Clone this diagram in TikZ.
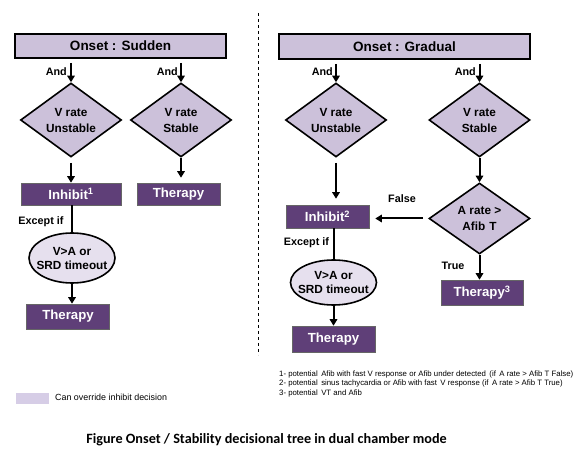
\documentclass[tikz,border=0pt]{standalone}
\usepackage{fontspec}
\setmainfont{Liberation Sans}
\newfontfamily\capfont{Carlito}
\usetikzlibrary{shapes.geometric,arrows.meta}
\definecolor{lilac}{HTML}{CCC1DA}
\definecolor{plum}{HTML}{5F3F78}
\definecolor{pale}{HTML}{E6E0EE}
\definecolor{swatch}{HTML}{D6CDE6}
\begin{document}
\begin{tikzpicture}[x=1pt,y=-1pt,
  onset/.style={draw=black,line width=2pt,fill=lilac,inner sep=0pt,font=\bfseries\fontsize{13.5}{15}\selectfont},
  test/.style={diamond,draw=black,line width=1.6pt,fill=lilac,inner sep=0pt,aspect=1.37,minimum width=101pt,minimum height=74pt,align=center,font=\bfseries\fontsize{11.8}{16}\selectfont},
  act/.style={draw=black!60,line width=0.6pt,fill=plum,text=white,inner sep=0pt,font=\bfseries\fontsize{13.2}{15}\selectfont},
  cond/.style={ellipse,draw=black,line width=1.6pt,fill=pale,inner xsep=-5pt,inner ysep=0pt,minimum width=84pt,minimum height=50pt,align=center,font=\bfseries\fontsize{11.8}{14}\selectfont},
  lbl/.style={inner sep=0pt,font=\bfseries\fontsize{10.8}{12}\selectfont},
  flow/.style={line width=2pt,-{Triangle[length=6.5pt,width=7.5pt]}},
  note/.style={anchor=west,inner sep=0pt,font=\fontsize{7.8}{9}\selectfont}]
\useasboundingbox (0,0) rectangle (582,468);
\fill[white] (0,0) rectangle (582,468);
\draw[line width=1pt,dash pattern=on 3pt off 3pt] (258,13) -- (258,355);
% sudden onset
\node[onset,minimum width=211pt,minimum height=24pt] (onsetS) at (120.5,46) {Onset : Sudden};
\node[test] (vuS) at (71,120) {V rate\\Unstable};
\node[test] (vsS) at (181,120) {V rate\\Stable};
\node[act,minimum width=100pt,minimum height=22pt] (inhS) at (71,194) {Inhibit\textsuperscript{1}};
\node[act,minimum width=83pt,minimum height=22pt] (thS) at (178.5,194) {Therapy};
\node[cond] (exS) at (72,258) {V>A or\\SRD timeout};
\node[act,minimum width=83pt,minimum height=25pt] (th2S) at (68,316.5) {Therapy};
\node[lbl,anchor=east] (andA) at (67,72) {And};
\node[lbl,anchor=east] (andB) at (178,72) {And};
\node[lbl] (excS) at (41,222) {Except if};
\draw[flow,shorten <=4pt] (onsetS.south -| vuS.north) -- (vuS.north);
\draw[flow,shorten <=4pt] (onsetS.south -| vsS.north) -- (vsS.north);
\draw[flow,shorten <=5pt] (vuS.south) -- (vuS.south |- inhS.north);
\draw[flow,shorten >=5pt] (vsS.south) -- (vsS.south |- thS.north);
\draw[line width=2pt] (exS.north |- inhS.south) -- (exS.north);
\draw[flow] (exS.south) -- (exS.south |- th2S.north);
% gradual onset
\node[onset,minimum width=251pt,minimum height=25pt] (onsetG) at (404.5,46.5) {Onset : Gradual};
\node[test] (vuG) at (336,120) {V rate\\Unstable};
\node[test] (vsG) at (479.5,120) {V rate\\Stable};
\node[test,minimum height=71pt] (aR) at (479.5,218.5) {A rate >\\Afib\,\,T};
\node[act,minimum width=83pt,minimum height=23pt] (inhG) at (327.5,216.5) {Inhibit\textsuperscript{2}};
\node[cond,minimum width=83pt,minimum height=45pt] (exG) at (333.5,282.5) {V>A or\\SRD timeout};
\node[act,minimum width=83pt,minimum height=26pt] (thG) at (333.5,339) {Therapy};
\node[act,minimum width=82pt,minimum height=25pt] (th3G) at (482,292.5) {Therapy\textsuperscript{3}};
\node[lbl,anchor=east] (andC) at (333,72) {And};
\node[lbl,anchor=east] (andD) at (476,72) {And};
\node[lbl] (excG) at (306.5,243) {Except if};
\node[lbl] (falseL) at (402,199) {False};
\node[lbl] (trueL) at (453,266) {True};
\draw[flow,shorten <=4pt] (onsetG.south -| vuG.north) -- (vuG.north);
\draw[flow,shorten <=4pt] (onsetG.south -| vsG.north) -- (vsG.north);
\draw[flow,shorten <=5pt,shorten >=6pt] (vuG.south) -- (vuG.south |- inhG.north);
\draw[flow] (vsG.south) -- (aR.north);
\draw[flow,shorten <=5pt,shorten >=6pt] (aR.west) -- (aR.west -| inhG.east);
\draw[flow] (aR.south) -- (aR.south |- th3G.north);
\draw[line width=2pt] (exG.north |- inhG.south) -- (exG.north);
\draw[flow] (exG.south) -- (exG.south |- thG.north);
% notes
\node[note] (n1) at (279,374) {1- potential\, Afib with fast V response or Afib under detected\, (if\, A rate > Afib T False)};
\node[note] (n2) at (279,383.5) {2- potential\, sinus tachycardia or Afib with fast\, V response (if\, A rate > Afib T True)};
\node[note] (n3) at (279,393) {3- potential\, VT and Afib};
\fill[swatch] (16,393) rectangle (49,404);
\node[anchor=west,inner sep=0pt,font=\fontsize{8.9}{10}\selectfont] (key) at (55,397.5) {Can override inhibit decision};
\node[font=\capfont\bfseries\fontsize{14.2}{16}\selectfont] (cap) at (266.5,440) {Figure Onset / Stability decisional tree in dual chamber mode};
\end{tikzpicture}
\end{document}
